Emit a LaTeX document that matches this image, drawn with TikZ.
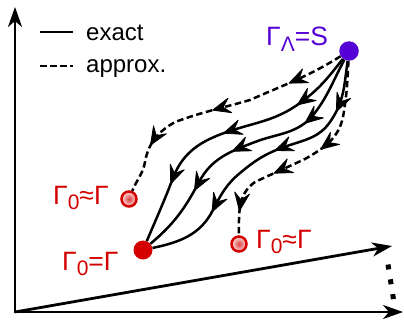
\documentclass[tikz,border=0pt]{standalone}
\usepackage{fontspec}
\setmainfont{Liberation Sans}
\usetikzlibrary{arrows.meta,decorations.markings}
\definecolor{cnred}{HTML}{D40000}
\definecolor{cnviolet}{HTML}{5500D4}
\newcommand{\lowsub}[1]{\raisebox{-0.22em}{\fontsize{21}{21}\selectfont #1}}
\tikzset{
  axis/.style={line width=2.8pt, line join=miter, >={Stealth[length=20pt,width=14pt,inset=6pt]}},
  exact/.style={line width=2.5pt},
  approx/.style={line width=2.5pt, dash pattern=on 6.5pt off 3.5pt},
  flow/.style={postaction={decorate,decoration={markings,mark=at position #1 with {\filldraw[solid, line width=0.8pt, line join=round] (3pt,0) -- (-15pt,7.5pt) -- (-8pt,0) -- (-15pt,-7.5pt) -- cycle;}}}},
  sdot/.style={circle, fill=cnviolet, minimum size=19.5pt, inner sep=0pt},
  rdot/.style={circle, fill=cnred, minimum size=19pt, inner sep=0pt},
  adot/.style={circle, draw=cnred, line width=2.5pt, inner color=cnred!75, outer color=cnred!12, minimum size=15pt, inner sep=0pt},
  legend/.style={font=\fontsize{24}{28}\selectfont, inner sep=0pt, anchor=base west},
  lbl/.style={font=\fontsize{26.5}{30}\selectfont, inner sep=0pt, anchor=base west}
}
\begin{document}
\begin{tikzpicture}[x=1pt, y=1pt]
  \useasboundingbox (0,0) rectangle (404,322);
  % axes
  \coordinate (O) at (15,10);
  \coordinate (ytip) at (15,315);
  \coordinate (xtip) at (403,10);
  \coordinate (ztip) at (392,76);
  \draw[axis, <->] (ytip) -- (O) -- (xtip);
  \draw[axis, ->] (O) -- (ztip);
  \draw[line width=5pt, dash pattern=on 5pt off 10pt] (388,57.5) -- (393.5,22.5);
  % legend
  \draw[exact] (40,290) -- (73,290);
  \node[legend] (lgexact) at (86,281) {exact};
  \draw[approx] (40,256) -- (73,256);
  \node[legend] (lgapprox) at (86,250) {approx.};
  % states
  \node[sdot] (lam) at (349,271) {};
  \node[rdot] (gam) at (143,72) {};
  \node[adot] (apxa) at (129,123) {};
  \node[adot] (apxb) at (239,78) {};
  \node[lbl, text=cnviolet] (lamlbl) at (266,276) {Γ\lowsub{Λ}=S};
  \node[lbl, text=cnred] (gamlbl) at (62,52) {Γ\lowsub{0}=Γ};
  \node[lbl, text=cnred] (apxalbl) at (53,118) {Γ\lowsub{0}≈Γ};
  \node[lbl, text=cnred] (apxblbl) at (256,74) {Γ\lowsub{0}≈Γ};
  % exact paths
  \draw[exact, flow=0.22, flow=0.5, flow=0.77] (lam) to[out=232,in=36] (300,219) to[out=216,in=19] (227,190) to[out=199,in=69] (173,144) to[out=249,in=67] (gam);
  \draw[exact, flow=0.26, flow=0.54, flow=0.74] (lam) to[out=242,in=50] (310,203) to[out=222,in=21] (255,180) to[out=201,in=62] (199,140) to[out=242,in=40] (gam);
  \draw[exact, flow=0.17, flow=0.43, flow=0.74] (lam) to[out=262,in=55] (330,200) to[out=235,in=18] (290,177) to[out=198,in=40] (240,149) to[out=220,in=63] (213,112) to[out=243,in=12] (gam);
  % approximate paths
  \draw[approx, flow=0.21, flow=0.52, flow=0.8] (lam) to[out=212,in=24] (250,222) to[out=196,in=20] (175,200) to[out=210,in=80] (145,160) to[out=260,in=68] (apxa);
  \draw[approx, flow=0.41, flow=0.64, flow=0.88] (lam) to[out=267,in=80] (343,205) to[out=258,in=30] (305,163) to[out=205,in=25] (255,140) to[out=215,in=90] (apxb);
\end{tikzpicture}
\end{document}
